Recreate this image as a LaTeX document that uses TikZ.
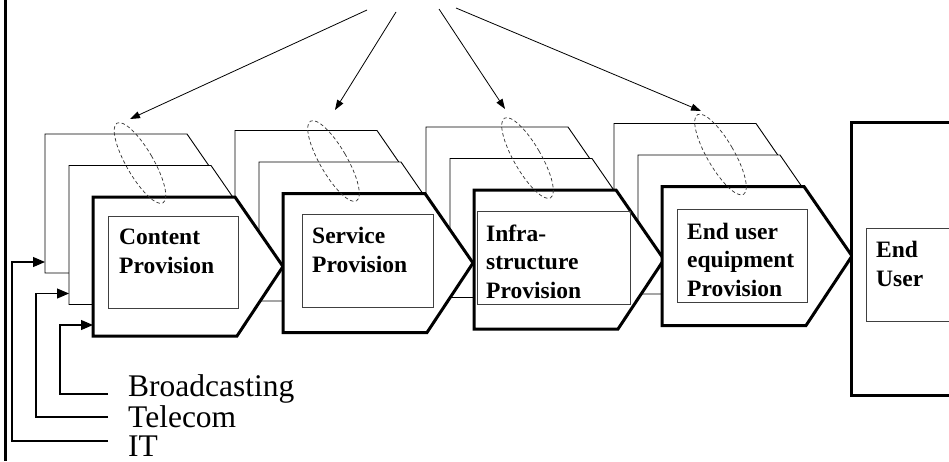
\documentclass[tikz,border=0pt]{standalone}
\usepackage{fontspec}
\setmainfont{Liberation Serif}
\usetikzlibrary{arrows.meta,shapes.geometric}
\tikzset{
 layer/.style={draw=black,line width=0.9pt,fill=white,line join=miter},
 frontlayer/.style={draw=black,line width=3pt,fill=white,line join=miter},
 inbox/.style={draw=black!75,line width=0.9pt},
 lbl/.style={font=\fontsize{23.5}{28.5}\selectfont\bfseries,align=left,inner sep=0pt,anchor=base west},
 src/.style={font=\fontsize{31.5}{31.5}\selectfont,inner sep=0pt,anchor=base west},
 conn/.style={line width=1.1pt,-{Triangle[length=12pt,width=10pt]}},
 topar/.style={line width=0.8pt,-{Triangle[length=10pt,width=7pt]}},
 oval/.style={ellipse,draw=black!80,dash pattern=on 3.5pt off 2.5pt,minimum width=27pt,minimum height=92pt,inner sep=0pt,rotate=30,line width=0.7pt},
}
\newcommand{\vcPent}[3]{\path[#3] (#1,#2) -- ++(142,0) -- ++(48,69.5) -- ++(-46,69.5) -- ++(-144,0) -- cycle;}
\begin{document}
\begin{tikzpicture}[x=1pt,y=-1pt]
\useasboundingbox (0,0) rectangle (949,461);
\clip (0,0) rectangle (949,461);
% back layers
\foreach \x/\y in {93/197,283/193.5,474/190,662/186.5} { \vcPent{\x-48}{\y-63}{layer} }
% middle layers
\foreach \x/\y in {93/197,283/193.5,474/190,662/186.5} { \vcPent{\x-24}{\y-31.5}{layer} }
% front layers
\foreach \x/\y in {93/197,283/193.5,474/190,662/186.5} { \vcPent{\x}{\y}{frontlayer} }
% end user box
\path[fill=white] (851,122) rectangle (960,395);
\draw[line width=3pt,line join=miter] (960,122) -- (851,122) -- (851,395) -- (960,395);
% inner boxes
\draw[inbox] (108,216) rectangle (238,308);
\draw[inbox] (302,214) rectangle (433,307);
\draw[inbox] (477,211) rectangle (630,304);
\draw[inbox] (677,209) rectangle (807,302);
\draw[inbox] (960,228) -- (866,228) -- (866,321) -- (960,321);
% labels (anchored at the baseline of the last line)
\node[lbl] (cp) at (119,273) {Content\\Provision};
\node[lbl] (sp) at (312,272) {Service\\Provision};
\node[lbl] (ip) at (486,298) {Infra-\\structure\\Provision};
\node[lbl] (ep) at (687,296) {End user\\equipment\\Provision};
\node[lbl] (eu) at (876,286) {End\\User};
% source labels
\node[src] (bc) at (128,396) {Broadcasting};
\node[src] (tc) at (128,427) {Telecom};
\node[src] (it) at (128,456) {IT};
\coordinate (inB) at (93,325);
\coordinate (inT) at (69,293.5);
\coordinate (inI) at (45,262);
\draw[conn] ([xshift=-20pt,yshift=2pt]bc.base west) -| ([xshift=-33pt]inB) -- (inB);
\draw[conn] ([xshift=-20pt,yshift=10pt]tc.base west) -| ([xshift=-33pt]inT) -- (inT);
\draw[conn] ([xshift=-20pt,yshift=15pt]it.base west) -| ([xshift=-33pt]inI) -- (inI);
% dashed ovals
\node[oval] (e1) at (140,163) {};
\node[oval] (e2) at (333.5,161) {};
\node[oval] (e3) at (527.5,158) {};
\node[oval] (e4) at (720.5,154.5) {};
% top arrows
\coordinate (s1) at (367,10);
\coordinate (s2) at (396,12);
\coordinate (s3) at (439,9);
\coordinate (s4) at (456,8);
\coordinate (t1) at (130,119);
\coordinate (t2) at (335,110);
\coordinate (t3) at (505,109);
\coordinate (t4) at (701,111);
\draw[topar] (s1) -- (t1);
\draw[topar] (s2) -- (t2);
\draw[topar] (s3) -- (t3);
\draw[topar] (s4) -- (t4);
% left border
\draw[line width=2.5pt] (5.5,0) -- (5.5,461);
\end{tikzpicture}
\end{document}
